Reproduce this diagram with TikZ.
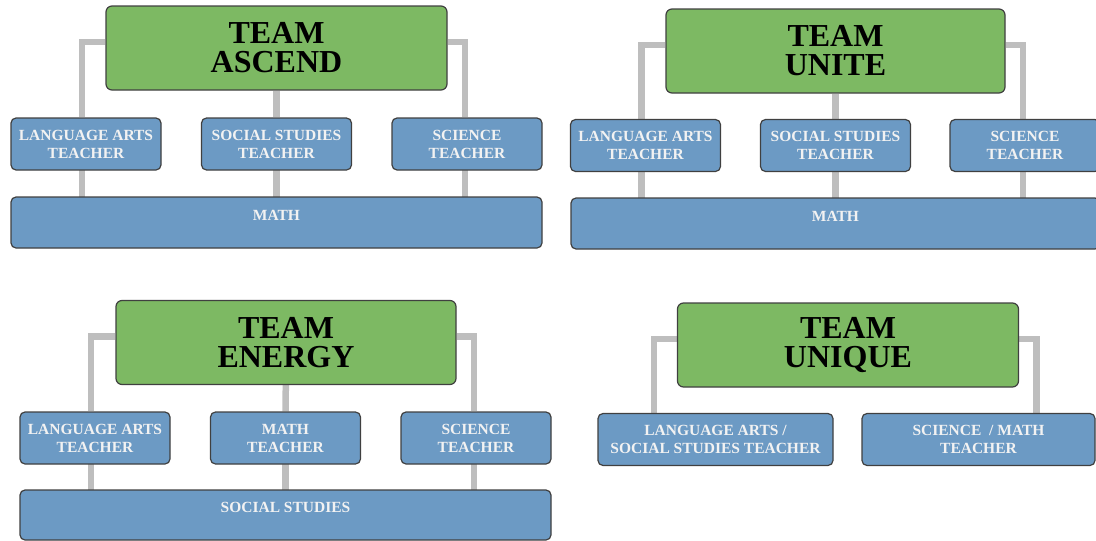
\documentclass[tikz,border=0pt]{standalone}
\usepackage{fontspec}
\setmainfont{Liberation Serif}
\usetikzlibrary{backgrounds}
\definecolor{teamgreen}{RGB}{125,185,99}
\definecolor{roleblue}{RGB}{108,154,196}
\definecolor{linkgray}{RGB}{190,190,190}
\tikzset{
  teambox/.style={draw=black!75,line width=1.2pt,fill=teamgreen,rounded corners=6pt,
    minimum width=341pt,minimum height=84pt,inner sep=0pt,align=center,
    font=\fontsize{32}{29}\selectfont\bfseries,text=black},
  rolebox/.style={draw=black!75,line width=1.2pt,fill=roleblue,rounded corners=5pt,
    minimum width=150pt,minimum height=52pt,inner sep=0pt,align=center,
    font=\fontsize{15.5}{18}\selectfont\bfseries,text=white!95!black},
  subjbox/.style={rolebox,align=none,minimum width=531pt,minimum height=51pt,
    text height=11pt,text depth=16pt},
  link/.style={draw=linkgray,line width=6.5pt}
}

\begin{document}
\begin{tikzpicture}[x=1pt,y=-1pt]
  \useasboundingbox (0,0) rectangle (1096,541);

  % team ascend
  \node[teambox] (asc)   at (276.5,48)  {TEAM\\ASCEND};
  \node[rolebox] (ascLA) at (86,144)    {LANGUAGE ARTS\\TEACHER};
  \node[rolebox] (ascSS) at (276.5,144) {SOCIAL STUDIES\\TEACHER};
  \node[rolebox] (ascSC) at (467,144)   {SCIENCE\\TEACHER};
  \node[subjbox] (ascM)  at (276.5,222.5) {MATH};

  % team unite
  \node[teambox,minimum width=339pt] (uni) at (835.5,51) {TEAM\\UNITE};
  \node[rolebox] (uniLA) at (645.5,145.5) {LANGUAGE ARTS\\TEACHER};
  \node[rolebox] (uniSS) at (835.5,145.5) {SOCIAL STUDIES\\TEACHER};
  \node[rolebox] (uniSC) at (1025,145.5)  {SCIENCE\\TEACHER};
  \node[subjbox,minimum width=529pt] (uniM) at (835.5,223.5) {MATH};

  % team energy
  \node[teambox,minimum width=340pt] (ene) at (286,342.5) {TEAM\\ENERGY};
  \node[rolebox] (eneLA) at (95,438)    {LANGUAGE ARTS\\TEACHER};
  \node[rolebox] (eneMT) at (285.5,438) {MATH\\TEACHER};
  \node[rolebox] (eneSC) at (476,438)   {SCIENCE\\TEACHER};
  \node[subjbox,minimum height=50pt] (eneSS) at (285.5,515) {SOCIAL STUDIES};

  % team unique
  \node[teambox] (unq) at (848,345) {TEAM\\UNIQUE};
  \node[rolebox,minimum width=235pt] (unqLS) at (715.5,439.5) {LANGUAGE ARTS /\\SOCIAL STUDIES TEACHER};
  \node[rolebox,minimum width=233pt] (unqSM) at (978.5,439.5) {SCIENCE~~/ MATH\\TEACHER};

  \begin{scope}[on background layer]
    \draw[link] ([yshift=6pt]asc.west) -| ([xshift=-4pt]ascLA.north);
    \draw[link] ([yshift=6pt]asc.east) -| ([xshift=-2pt]ascSC.north);
    \draw[link] (asc) -- (ascSS);
    \foreach \r/\dx in {ascLA/-4,ascSS/0,ascSC/-2}
      \draw[link] ([xshift=\dx pt]\r.center) -- ([xshift=\dx pt]\r.center |- ascM);

    \draw[link] ([yshift=6pt]uni.west) -| ([xshift=-4pt]uniLA.north);
    \draw[link] ([yshift=6pt]uni.east) -| ([xshift=-2pt]uniSC.north);
    \draw[link] (uni) -- (uniSS);
    \foreach \r/\dx in {uniLA/-4,uniSS/0,uniSC/-2}
      \draw[link] ([xshift=\dx pt]\r.center) -- ([xshift=\dx pt]\r.center |- uniM);

    \draw[link] ([yshift=6pt]ene.west) -| ([xshift=-4pt]eneLA.north);
    \draw[link] ([yshift=6pt]ene.east) -| ([xshift=-2pt]eneSC.north);
    \draw[link] (ene) -- (eneMT);
    \foreach \r/\dx in {eneLA/-4,eneMT/0,eneSC/-2}
      \draw[link] ([xshift=\dx pt]\r.center) -- ([xshift=\dx pt]\r.center |- eneSS);

    \draw[link] ([yshift=6pt]unq.west) -| ([xshift=-61.5pt]unqLS.north);
    \draw[link] ([yshift=6pt]unq.east) -| ([xshift=58pt]unqSM.north);
  \end{scope}
\end{tikzpicture}
\end{document}
